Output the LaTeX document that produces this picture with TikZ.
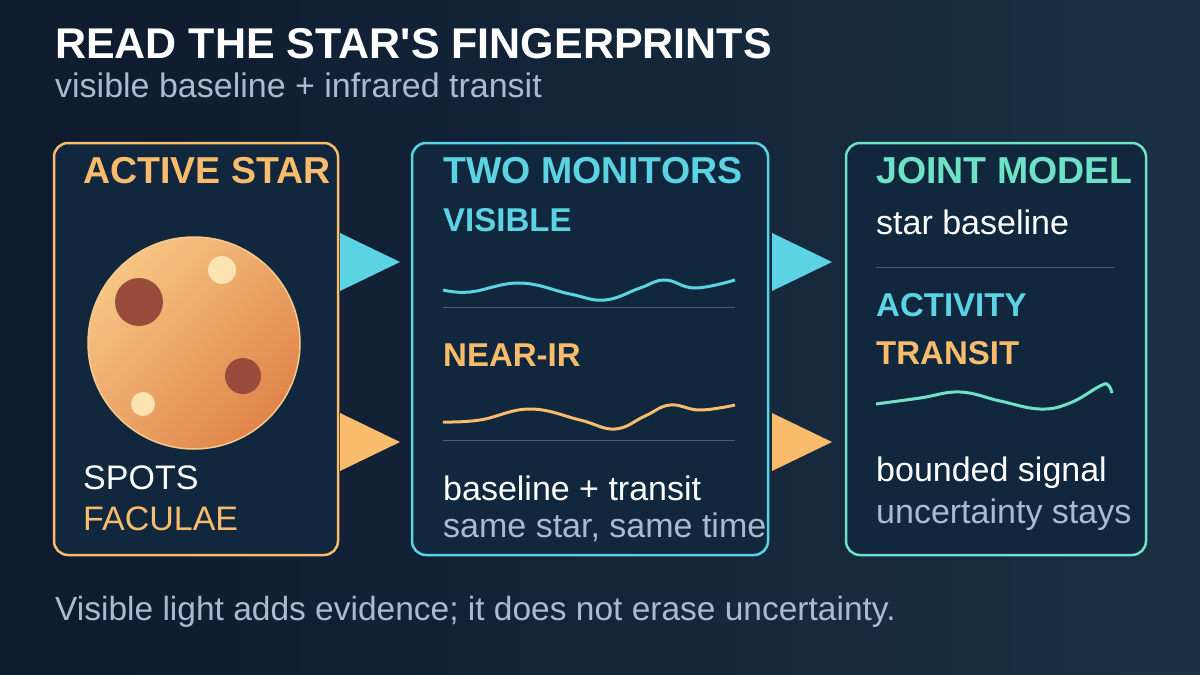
\documentclass[tikz,border=0pt]{standalone}
\usepackage{fontspec}
\setmainfont{Liberation Sans}
\begin{document}
\begin{tikzpicture}[x=1pt,y=-1pt,
  box/.style={rounded corners=14pt,line width=2.5pt,fill=boxfill},
  t/.style={anchor=base west,inner sep=0pt},
  head/.style={t,font=\fontsize{37.5}{37.5}\selectfont\bfseries},
  sub/.style={t,font=\fontsize{33}{33}\selectfont\bfseries},
  body/.style={t,font=\fontsize{34}{34}\selectfont},
  sep/.style={line width=1pt,draw=sepc}]
\definecolor{bg1}{HTML}{0E1A2E}\definecolor{bg2}{HTML}{1A3044}
\definecolor{boxfill}{HTML}{11273E}
\definecolor{orng}{HTML}{F8BC6C}\definecolor{cyn}{HTML}{5CD3E3}
\definecolor{teal}{HTML}{6FE2C6}\definecolor{gry}{HTML}{A7BBD3}
\definecolor{sepc}{HTML}{4A6076}
\definecolor{pl1}{HTML}{F6C584}\definecolor{pl2}{HTML}{E0854A}
\definecolor{dsp}{HTML}{9A4C3C}\definecolor{lsp}{HTML}{FBE3B2}
\useasboundingbox (0,0) rectangle (1200,675);
\shade[left color=bg1,right color=bg2] (0,0) rectangle (1200,675);
\node[t,font=\fontsize{43}{43}\selectfont\bfseries,text=white] (title) at (55,58) {READ THE STAR\textquotesingle S FINGERPRINTS};
\node[t,font=\fontsize{34}{34}\selectfont,text=gry] (subt) at (55,97) {visible baseline + infrared transit};
% boxes
\draw[box,draw=orng] (54,143) rectangle (338,555);
\draw[box,draw=cyn] (412,143) rectangle (768,555);
\draw[box,draw=teal] (846,143) rectangle (1146,555);
% arrows
\fill[cyn] (340,233) -- (400,262) -- (340,291) -- cycle;
\fill[orng] (340,413) -- (400,442) -- (340,471) -- cycle;
\fill[cyn] (772,233) -- (832,262) -- (772,291) -- cycle;
\fill[orng] (772,413) -- (832,442) -- (772,471) -- cycle;
% box 1
\node[head,text=orng] (h1) at (83,183) {ACTIVE STAR};
\shade[top color=pl1,bottom color=pl2,shading angle=45] (194,343) circle (106);
\node[circle,minimum size=212pt,draw=orng!80!white,line width=1.5pt] (planet) at (194,343) {};
\fill[dsp] (139,302) circle (24);
\fill[dsp] (243,376) circle (18);
\fill[lsp] (222,270) circle (14);
\fill[lsp] (143,404) circle (12);
\node[body,text=white] (spots) at (83,489) {SPOTS};
\node[body,text=orng] (fac) at (83,530) {FACULAE};
% box 2
\node[head,text=cyn] (h2) at (443,183) {TWO MONITORS};
\node[sub,text=cyn] (vis) at (443,231) {VISIBLE};
\draw[cyn,line width=3pt] plot[smooth,tension=0.7] coordinates{(443,290)(470,292)(520,283)(570,294)(605,300)(640,288)(665,280)(695,288)(735,280)};
\draw[sep] (443,307) -- (735,307);
\node[sub,text=orng] (nir) at (443,366) {NEAR-IR};
\draw[orng,line width=3pt] plot[smooth,tension=0.7] coordinates{(443,422)(480,420)(530,409)(580,420)(615,429)(645,416)(670,405)(700,410)(735,405)};
\draw[sep] (443,440) -- (735,440);
\node[body,text=white] (bt) at (443,500) {baseline + transit};
\node[body,text=gry] (ss) at (443,537) {same star, same time};
% box 3
\node[head,text=teal] (h3) at (876,183) {JOINT MODEL};
\node[body,text=white] (sb) at (876,234) {star baseline};
\draw[sep] (876,267) -- (1114,267);
\node[sub,text=cyn] (act) at (876,316) {ACTIVITY};
\node[sub,text=orng] (tr) at (876,364) {TRANSIT};
\draw[teal,line width=3pt] plot[smooth,tension=0.7] coordinates{(876,404)(920,398)(960,392)(1000,401)(1040,409)(1070,403)(1100,386)(1108,385)(1112,393)};
\node[body,text=white] (bs) at (876,481) {bounded signal};
\node[body,text=gry] (us) at (876,523) {uncertainty stays};
\node[t,font=\fontsize{33.5}{33.5}\selectfont,text=gry] (foot) at (55,620) {Visible light adds evidence; it does not erase uncertainty.};
\end{tikzpicture}
\end{document}
